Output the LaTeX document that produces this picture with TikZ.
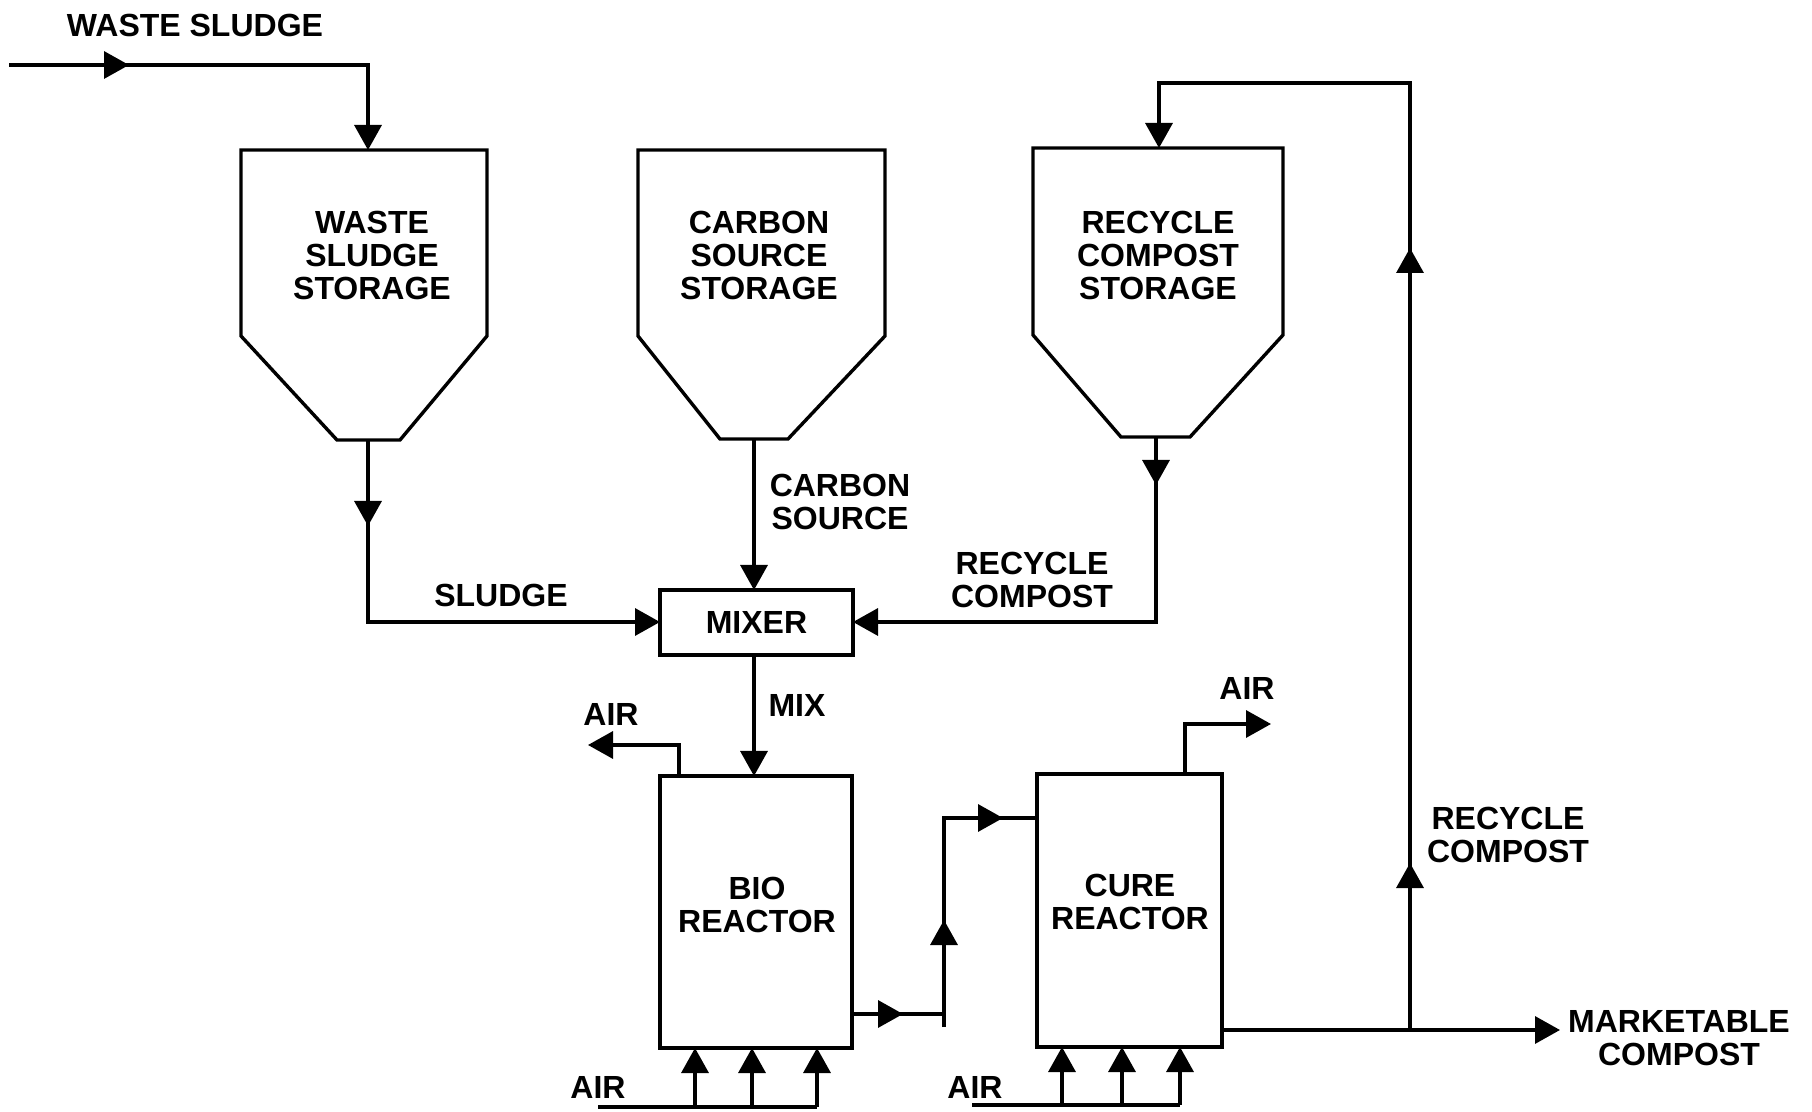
\documentclass[tikz,border=0pt]{standalone}
\usepackage{fontspec}
\setmainfont{Liberation Sans}
\usetikzlibrary{arrows.meta,calc}
\begin{document}
\begin{tikzpicture}[x=0.5pt,y=-0.5pt,
  ln/.style={line width=1.7pt, line join=miter},
  tip/.style={-{Triangle[length=12.5pt,width=13.5pt]}},
  lbl/.style={font=\fontsize{16}{16.5}\selectfont\bfseries, align=center, inner sep=0pt},
  blbl/.style={font=\fontsize{16}{16.5}\selectfont\bfseries, align=center, inner sep=0pt},
  box/.style={draw, line width=1.7pt, rectangle, inner sep=0pt, outer sep=0pt},
]
\useasboundingbox (0,0) rectangle (1812,1112);

% ---------- tanks ----------
\draw[ln] (241,150) -- (487,150) -- (487,336) -- (400,440) -- (337,440) -- (241,336) -- cycle;
\draw[ln] (638,150) -- (885,150) -- (885,336) -- (788,439) -- (720,439) -- (638,336) -- cycle;
\draw[ln] (1033,148) -- (1283,148) -- (1283,335) -- (1190,437) -- (1121,437) -- (1033,335) -- cycle;
\coordinate (t1top) at (368,150);
\coordinate (t1bot) at (368,440);
\coordinate (t2bot) at (754,439);
\coordinate (t3top) at (1159,148);
\coordinate (t3bot) at (1156,437);

\node[lbl] (t1lbl) at (372,255) {WASTE\\SLUDGE\\STORAGE};
\node[lbl] (t2lbl) at (759,255) {CARBON\\SOURCE\\STORAGE};
\node[lbl] (t3lbl) at (1158,255) {RECYCLE\\COMPOST\\STORAGE};

% ---------- boxes ----------
\node[box, minimum width=96.5pt, minimum height=32.5pt] (mixer) at (756.5,622.5) {};
\node[lbl] (mixlbl) at (mixer.center) {MIXER};
\node[box, minimum width=96pt, minimum height=136pt] (bio) at (756,912) {};
\node[lbl] (biolbl) at (757,905) {BIO\\REACTOR};
\node[box, minimum width=92.5pt, minimum height=136.5pt] (cure) at (1129.5,910.5) {};
\node[lbl] (curelbl) at (1130,902) {CURE\\REACTOR};

% ---------- input waste sludge ----------
\coordinate (in0) at (9,65);
\coordinate (in1) at (368,65);
\draw[ln,tip] (in0) -- (in1) -- (t1top);
\draw[ln,tip] (100,65) -- (129,65);
\node[lbl] (wslbl) at (195,25) {WASTE SLUDGE};

% ---------- sludge to mixer ----------
\coordinate (s1) at (368,622);
\draw[ln,tip] (t1bot) -- (s1) -- (mixer.west |- s1);
\draw[ln,tip] (368,495) -- (368,526);
\node[lbl] (sllbl) at (501,595) {SLUDGE};

% ---------- carbon source to mixer ----------
\draw[ln,tip] (t2bot) -- (t2bot |- mixer.north);
\node[lbl] (cslbl) at (840,502) {CARBON\\SOURCE};

% ---------- recycle compost to mixer ----------
\coordinate (r1) at (1156,622);
\draw[ln,tip] (t3bot) -- (r1) -- (mixer.east |- r1);
\draw[ln,tip] (1156,455) -- (1156,485);
\node[lbl] (rclbl) at (1032,580) {RECYCLE\\COMPOST};

% ---------- mix to bioreactor ----------
\draw[ln,tip] (t2bot |- mixer.south) -- (t2bot |- bio.north);
\node[lbl] (mxlbl) at (797,705) {MIX};

% ---------- air out of bioreactor ----------
\coordinate (ba0) at (679,776);
\coordinate (ba1) at (679,745);
\coordinate (ba2) at (588,745);
\draw[ln,tip] (ba0) -- (ba1) -- (ba2);
\node[lbl] (air1) at (611,714) {AIR};

% ---------- bioreactor to cure reactor ----------
\coordinate (b0) at (852,1014);
\coordinate (b1) at (944,1014);
\coordinate (b2) at (944,1027);
\coordinate (b3) at (944,818);
\coordinate (b4) at (1037,818);
\draw[ln] (b0) -- (b1);
\draw[ln] (b2) -- (b3) -- (b4);
\draw[ln,tip] (875,1014) -- (903,1014);
\draw[ln,tip] (944,950) -- (944,920);
\draw[ln,tip] (975,818) -- (1003,818);

% ---------- air out of cure reactor ----------
\coordinate (ca0) at (1185,774);
\coordinate (ca1) at (1185,724);
\coordinate (ca2) at (1271,724);
\draw[ln,tip] (ca0) -- (ca1) -- (ca2);
\node[blbl] (air2) at (1247,688) {AIR};

% ---------- cure reactor outlet ----------
\coordinate (c0) at (1222,1030);
\coordinate (cj) at (1410,1030);
\coordinate (c1) at (1560,1030);
\coordinate (c2) at (1410,83);
\coordinate (c3) at (1159,83);
\draw[ln,tip] (c0) -- (c1);
\draw[ln,tip] (cj) -- (c2) -- (c3) -- (t3top);
\draw[ln,tip] (1410,893) -- (1410,863);
\draw[ln,tip] (1410,278) -- (1410,248);
\node[blbl] (rclbl2) at (1508,835) {RECYCLE\\COMPOST};
\node[blbl] (mklbl) at (1679,1038) {MARKETABLE\\COMPOST};

% ---------- air into bioreactor ----------
\coordinate (ab0) at (598,1107);
\coordinate (ab1) at (695,1107);
\coordinate (ab2) at (752,1107);
\coordinate (ab3) at (817,1107);
\draw[ln] (ab0) -- (ab3);
\draw[ln,tip] (ab1) -- (ab1 |- bio.south);
\draw[ln,tip] (ab2) -- (ab2 |- bio.south);
\draw[ln,tip] (ab3) -- (ab3 |- bio.south);
\node[lbl] (air3) at (598,1087) {AIR};

% ---------- air into cure reactor ----------
\coordinate (ac0) at (972,1105);
\coordinate (ac1) at (1062,1105);
\coordinate (ac2) at (1122,1105);
\coordinate (ac3) at (1180,1105);
\draw[ln] (ac0) -- (ac3);
\draw[ln,tip] (ac1) -- (ac1 |- cure.south);
\draw[ln,tip] (ac2) -- (ac2 |- cure.south);
\draw[ln,tip] (ac3) -- (ac3 |- cure.south);
\node[lbl] (air4) at (975,1087) {AIR};
\end{tikzpicture}
\end{document}
